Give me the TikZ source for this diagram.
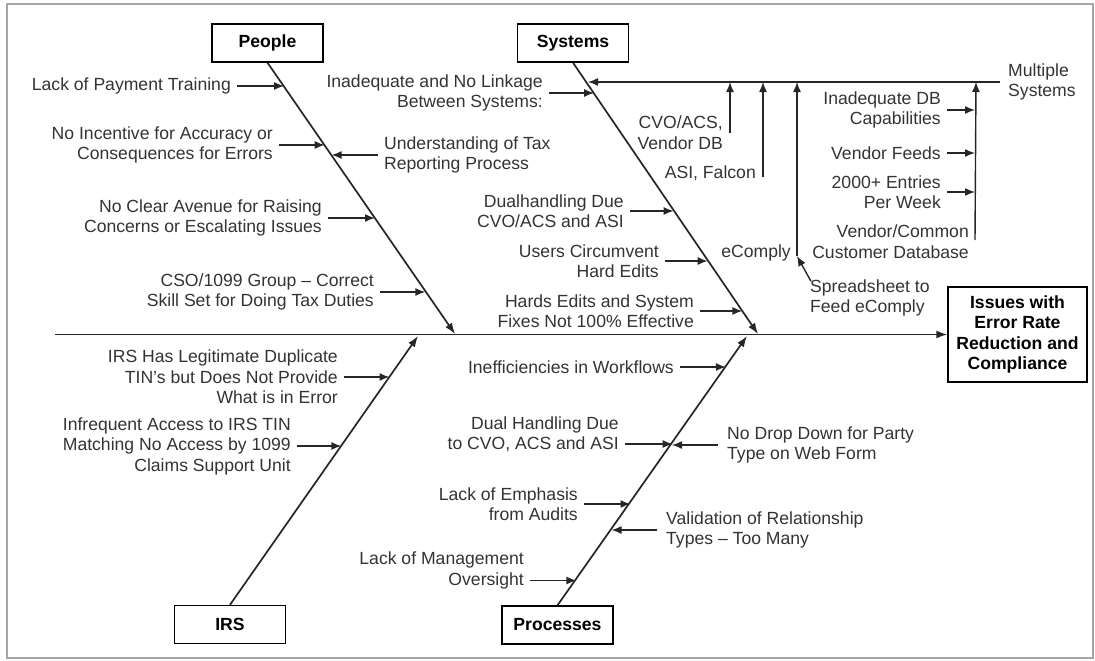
\documentclass[tikz,border=0pt]{standalone}
\usepackage{fontspec}
\setmainfont{Liberation Sans}
\usetikzlibrary{arrows.meta}
\newcommand{\cfont}{\fontsize{17.6}{20.5}\selectfont}

\begin{document}
\begin{tikzpicture}[x=1pt,y=-1pt]

\tikzset{
    bonebox/.style={draw,line width=1.4pt,minimum width=111pt,minimum height=38pt,inner sep=2pt,font=\cfont\bfseries},
    causeL/.style={anchor=east,align=right,inner sep=0pt,font=\cfont,text=black!80},
    causeR/.style={anchor=west,align=left,inner sep=0pt,font=\cfont,text=black!80},
    arr/.style={-{Latex[length=10pt,width=8pt]},line width=1.4pt,draw=black!85},
    bone/.style={-{Latex[length=11pt,width=8pt]},line width=1.7pt,draw=black!85}}

\useasboundingbox (0,0) rectangle (1095,661);
\draw[gray!70,line width=2pt] (7,4) rectangle (1093,658);

% boxes
\node[bonebox] (ppl) at (267.5,43) {People};
\node[bonebox] (sys) at (573,43) {Systems};
\node[bonebox] (irs) at (230,624.5) {IRS};
\node[bonebox] (proc) at (557.5,625) {Processes};
\node[bonebox, minimum width=139pt, minimum height=95pt, align=center] (eff) at (1017.5,334.5)
    {Issues with\\Error Rate\\Reduction and\\Compliance};

% spine and bones
\coordinate (tail) at (55,334.5);
\coordinate (pplend) at (455,334);
\coordinate (sysend) at (758,334);
\coordinate (irsend) at (418,336);
\coordinate (procend) at (747,336);

\draw[bone] (tail) -- (eff.west);
\draw[bone] (ppl.south) -- (pplend);
\draw[bone] (sys.south) -- (sysend);
\draw[bone] (irs.north) -- (irsend);
\draw[bone] (proc.north) -- (procend);

% People
\node[causeL] (pa) at (231,86) {Lack of Payment Training};
\node[causeL] (pb) at (273,145) {No Incentive for Accuracy or\\Consequences for Errors};
\node[causeR] (pc) at (384,155) {Understanding of Tax\\Reporting Process};
\node[causeL] (pd) at (322,218) {No Clear Avenue for Raising\\Concerns or Escalating Issues};
\node[causeL] (pe) at (374,292) {CSO/1099 Group – Correct\\Skill Set for Doing Tax Duties};

\coordinate (p1) at (284,86);
\coordinate (p2) at (324.7,145);
\coordinate (p3) at (331.6,155);
\coordinate (p4) at (375,218);
\coordinate (p5) at (425.3,292);

\draw[arr] ([xshift=6pt]pa.east) -- (p1);
\draw[arr] ([xshift=6pt]pb.east) -- (p2);
\draw[arr] ([xshift=-6pt]pc.west) -- (p3);
\draw[arr] ([xshift=6pt]pd.east) -- (p4);
\draw[arr] ([xshift=6pt]pe.east) -- (p5);

% Systems
\node[causeL] (sa) at (543,93) {Inadequate and No Linkage\\Between Systems:};
\node[causeL] (sb) at (723,132.5) {CVO/ACS,\\Vendor DB};
\node[causeL] (sc) at (756,173) {ASI, Falcon};
\node[causeL] (sd) at (791,253) {eComply};
\node[causeR] (se) at (810,298) {Spreadsheet to\\Feed eComply};
\node[causeR] (msys) at (1008,82) {Multiple\\Systems};
\node[causeL] (sf) at (941,110) {Inadequate DB\\Capabilities};
\node[causeL] (sg) at (941,153) {Vendor Feeds};
\node[causeL] (sh) at (941,192) {2000+ Entries\\Per Week};
\node[causeL] (si) at (969,241.5) {Vendor/Common\\Customer Database};
\node[causeL] (sj) at (624,211) {Dualhandling Due\\CVO/ACS and ASI};
\node[causeL] (sk) at (659,261) {Users Circumvent\\Hard Edits};
\node[causeL] (sl) at (694,311) {Hards Edits and System\\Fixes Not 100\% Effective};

\coordinate (s0) at (588,82);
\coordinate (s1) at (594.1,93);
\coordinate (v1) at (730,82);
\coordinate (v2) at (763,82);
\coordinate (v3) at (797,82);
\coordinate (v4) at (976,82);
\coordinate (ec) at (797,256);
\coordinate (mv) at (975,240);
\coordinate (s2) at (673.6,211);
\coordinate (s3) at (707.7,261);
\coordinate (s4) at (742.4,311);

\draw[arr] ([xshift=-8pt]msys.west) -- (s0);
\draw[arr] ([xshift=6pt]sa.east) -- (s1);
\draw[arr] (sb.east -| v1) -- (v1);
\draw[arr] ([yshift=-4pt]sc.east -| v2) -- (v2);
\draw[arr] (ec) -- (v3);
\draw[arr] ([xshift=1pt,yshift=-2pt]se.north west) -- (ec);
\draw[arr] (mv) -- (v4);
\draw[arr] ([xshift=6pt]sf.east) -- (sf.east -| mv);
\draw[arr] ([xshift=6pt]sg.east) -- (sg.east -| mv);
\draw[arr] ([xshift=6pt]sh.east) -- (sh.east -| mv);
\draw[arr] ([xshift=6pt]sj.east) -- (s2);
\draw[arr] ([xshift=6pt]sk.east) -- (s3);
\draw[arr] ([xshift=6pt]sl.east) -- (s4);

% IRS
\node[causeL] (ia) at (338,377) {IRS Has Legitimate Duplicate\\TIN's but Does Not Provide\\What is in Error};
\node[causeL] (ib) at (291,446) {Infrequent Access to IRS TIN\\Matching No Access by 1099\\Claims Support Unit};

\coordinate (i1) at (389.5,377);
\coordinate (i2) at (341.4,446);

\draw[arr] ([xshift=6pt]ia.east) -- (i1);
\draw[arr] ([xshift=6pt]ib.east) -- (i2);

% Processes
\node[causeL] (ra) at (674,367) {Inefficiencies in Workflows};
\node[causeL] (rb) at (619,434) {Dual Handling Due\\to CVO, ACS and ASI};
\node[causeR] (rc) at (727,445) {No Drop Down for Party\\Type on Web Form};
\node[causeL] (rd) at (578,504) {Lack of Emphasis\\from Audits};
\node[causeR] (re) at (666,530) {Validation of Relationship\\Types – Too Many};
\node[causeL] (rf) at (524,570.5) {Lack of Management\\Oversight};

\coordinate (r1) at (725.9,367);
\coordinate (r2) at (672.6,444);
\coordinate (r3) at (672,445);
\coordinate (r4) at (630.5,504);
\coordinate (r5) at (611.5,530);
\coordinate (r6) at (576.4,580.5);

\draw[arr] ([xshift=6pt]ra.east) -- (r1);
\draw[arr] ([xshift=6pt,yshift=-10pt]rb.east) -- (r2);
\draw[arr] ([xshift=-9pt]rc.west) -- (r3);
\draw[arr] ([xshift=6pt]rd.east) -- (r4);
\draw[arr] ([xshift=-9pt]re.west) -- (r5);
\draw[arr] ([xshift=6pt,yshift=-10pt]rf.east) -- (r6);

\end{tikzpicture}
\end{document}
